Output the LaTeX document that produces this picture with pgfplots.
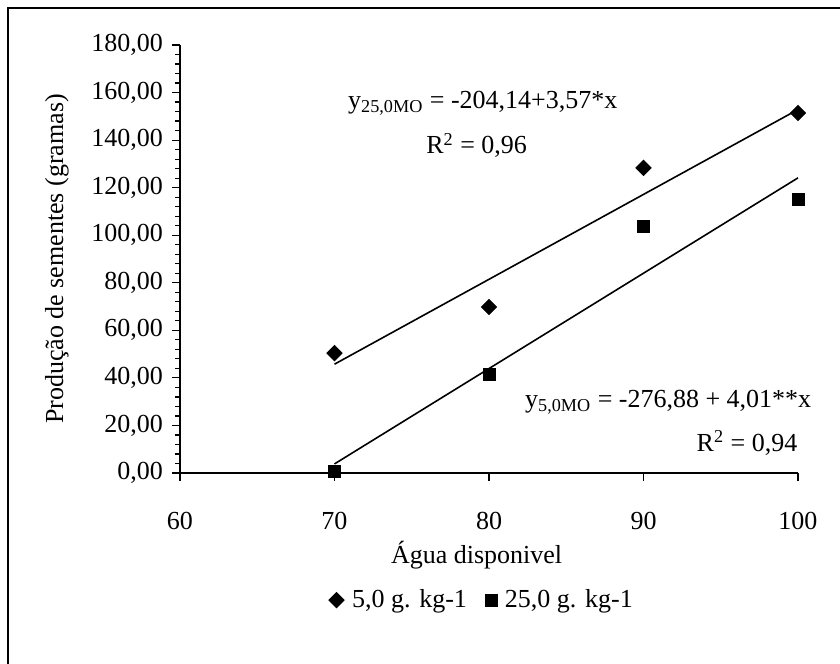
\documentclass[border=0pt]{standalone}
\usepackage{fontspec}
\setmainfont{Liberation Serif}
\usepackage{pgfplots}
\pgfplotsset{compat=1.18}
\begin{document}
\fontsize{13bp}{15.6bp}\selectfont
\begin{tikzpicture}
\path[use as bounding box] (-90bp,-95.5bp) rectangle (330bp,236.5bp);
\draw[line width=1bp] (-86bp,-95.5bp) -- (-86bp,232.5bp) -- (330bp,232.5bp);
\begin{axis}[
  at={(0,0)}, anchor=south west,
  scale only axis, width=309bp, height=214bp,
  xmin=60, xmax=100, ymin=0, ymax=180,
  axis x line=bottom, axis y line=left,
  axis line style={-, line width=0.8bp},
  xtick={60,70,80,90,100}, ytick={0,20,...,180},
  minor y tick num=4,
  tick align=outside, major tick length=4bp, minor tick length=2.5bp,
  tick style={black, line width=0.6bp},
  /pgf/number format/assume math mode=true,
  yticklabel style={/pgf/number format/.cd, fixed, fixed zerofill, precision=2, use comma},
  xticklabel style={yshift=-11bp, /pgf/number format/.cd, fixed, precision=0},
  xlabel={Água disponivel},
  ylabel={Produção de sementes (gramas)},
  xlabel style={at={(axis description cs:0.48,-0.192)}, anchor=center},
  ylabel style={at={(axis description cs:-0.199,0.5)}, anchor=center},
  legend style={draw=none, fill=none, at={(axis description cs:0.49,-0.297)}, anchor=center,
    legend columns=2,
    /tikz/every odd column/.append style={column sep=2bp},
    /tikz/every even column/.append style={column sep=7bp},
    font=\fontsize{13bp}{15.6bp}\selectfont},
  clip=false,
]
\addplot[only marks, mark=square*, mark size=2.7bp, mark options={rotate=45, fill=black, draw=black}]
  coordinates {(70,50.4) (80,69.8) (90,128.3) (100,151.4)};
\addlegendentry{5,0 g. kg-1}
\addplot[only marks, mark=square*, mark size=3bp, mark options={fill=black, draw=black}]
  coordinates {(70,0.6) (80,41.6) (90,103.9) (100,115.2)};
\addlegendentry{25,0 g. kg-1}
\addplot[black, line width=0.8bp, forget plot] coordinates {(70,45.76) (100,152.86)};
\addplot[black, line width=0.8bp, forget plot] coordinates {(70,3.82) (100,124.12)};
\node at (axis cs:79.6,155.6) {y\textsubscript{25,0MO} = -204,14+3,57*x};
\node at (axis cs:79.2,137.8) {R\textsuperscript{2} = 0,96};
\node at (axis cs:91.6,29.9) {y\textsubscript{5,0MO} = -276,88 + 4,01**x};
\node at (axis cs:96.7,12.6) {R\textsuperscript{2} = 0,94};
\end{axis}
\end{tikzpicture}
\end{document}
